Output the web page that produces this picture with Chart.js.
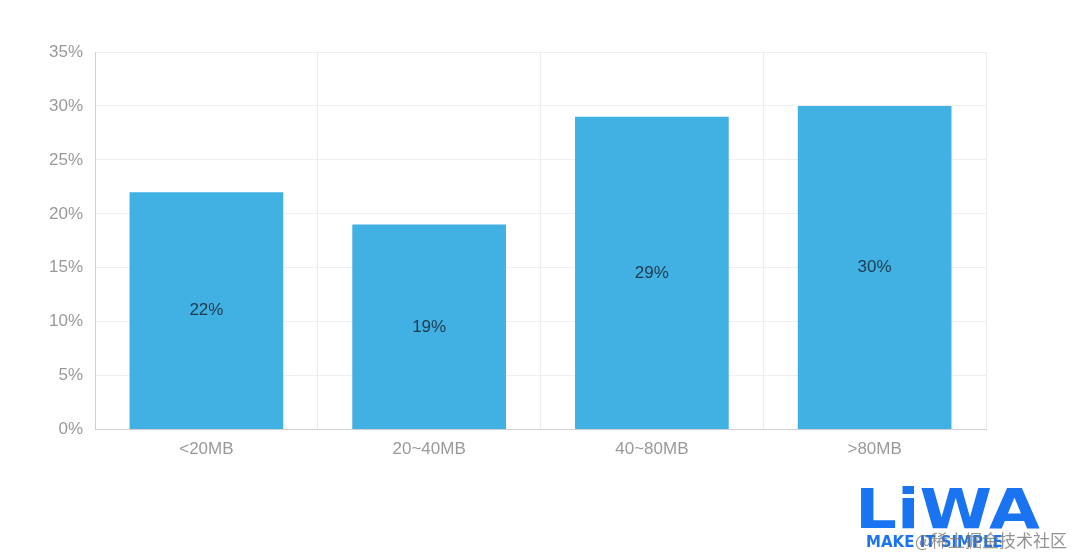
<!DOCTYPE html>
<html>
<head>
<meta charset="utf-8">
<script src="https://cdn.jsdelivr.net/npm/chart.js@4"></script>
<style>
  html, body { margin: 0; padding: 0; background: #fff; }
  #wrap { width: 1080px; height: 557px; position: relative; }
</style>
</head>
<body>
<div id="wrap"><canvas id="bar-chart"></canvas></div>
<script>
var categories = ["<20MB", "20~40MB", "40~80MB", ">80MB"];
var shares = [22, 19, 29, 30];
var barLabels = ["22%", "19%", "29%", "30%"];

var fontFamily = "'Liberation Sans', Arial, sans-serif";

// writes the value in the middle of each bar
var centerLabels = {
  id: "centerLabels",
  afterDatasetsDraw: function (chart) {
    var ctx = chart.ctx;
    var meta = chart.getDatasetMeta(0);
    ctx.save();
    ctx.font = "17px " + fontFamily;
    ctx.fillStyle = "#1f3a4d";
    ctx.textAlign = "center";
    ctx.textBaseline = "middle";
    meta.data.forEach(function (bar, i) {
      ctx.fillText(barLabels[i], bar.x, (bar.y + bar.base) / 2);
    });
    ctx.restore();
  }
};

// watermark in the corner
var watermark = {
  id: "watermark",
  afterDraw: function (chart) {
    var ctx = chart.ctx;
    ctx.save();
    ctx.fillStyle = "#1a73f0";
    ctx.font = "bold 56px 'DejaVu Sans', sans-serif";
    ctx.textBaseline = "alphabetic";
    var w = ctx.measureText("LiWA").width;
    ctx.translate(855, 528);
    ctx.scale(185 / w, 1);
    ctx.fillText("LiWA", 0, 0);
    ctx.setTransform(1, 0, 0, 1, 0, 0);
    ctx.font = "bold 15px 'DejaVu Sans', sans-serif";
    ctx.fillText("MAKE IT SIMPLE", 866, 547);
    ctx.fillStyle = "rgba(120,120,120,0.8)";
    ctx.font = "17px 'Noto Sans CJK SC', sans-serif";
    ctx.fillText("@稀土掘金技术社区", 915, 547);
    ctx.restore();
  }
};

new Chart(document.getElementById("bar-chart"), {
  type: "bar",
  data: {
    labels: categories,
    datasets: [
      {
        label: "share",
        backgroundColor: "#41b0e3",
        data: shares,
        categoryPercentage: 1,
        barPercentage: 0.69
      }
    ]
  },
  options: {
    responsive: true,
    maintainAspectRatio: false,
    animation: false,
    devicePixelRatio: 1,
    layout: { padding: { left: 37, right: 94, top: 52, bottom: 87 } },
    plugins: {
      legend: { display: false },
      tooltip: { enabled: false }
    },
    scales: {
      x: {
        grid: { color: "#ececec", drawTicks: false, offset: true },
        border: { color: "#cfcfcf" },
        ticks: { color: "#999", padding: 10, font: { size: 17, family: fontFamily } }
      },
      y: {
        min: 0,
        max: 35,
        grid: { color: "#efefef", drawTicks: false },
        border: { color: "#cfcfcf" },
        ticks: {
          stepSize: 5,
          color: "#999",
          padding: 12,
          font: { size: 17, family: fontFamily },
          callback: function (v) { return v + "%"; }
        }
      }
    }
  },
  plugins: [centerLabels, watermark]
});
</script>
</body>
</html>
